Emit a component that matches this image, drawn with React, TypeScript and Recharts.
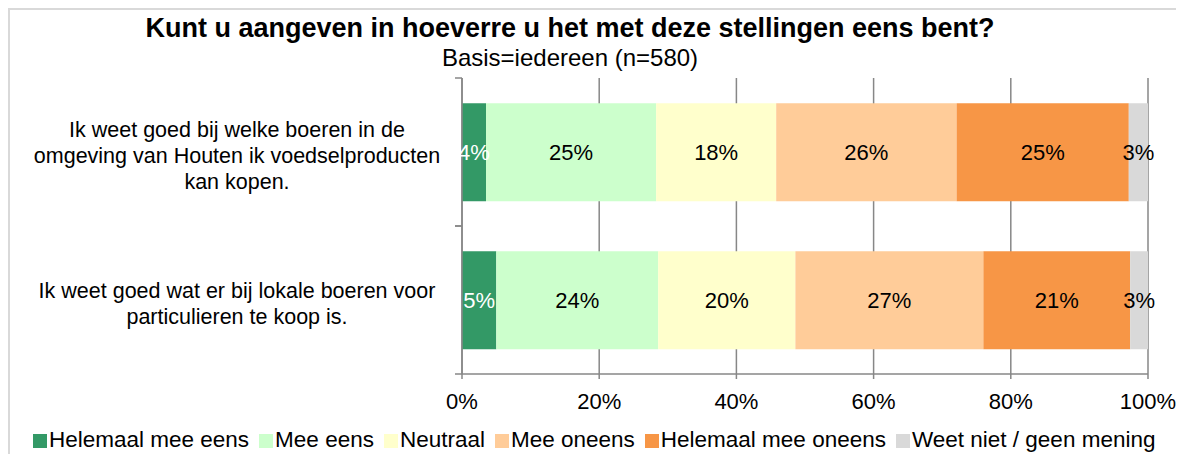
import React from "react";
import { BarChart, Bar, XAxis, YAxis, CartesianGrid, LabelList } from "recharts";

const statements = [
  ["Ik weet goed bij welke boeren in de", "omgeving van Houten ik voedselproducten", "kan kopen."],
  ["Ik weet goed wat er bij lokale boeren voor", "particulieren te koop is."],
];

const seriesNames = [
  "Helemaal mee eens",
  "Mee eens",
  "Neutraal",
  "Mee oneens",
  "Helemaal mee oneens",
  "Weet niet / geen mening",
];
const seriesColors = ["#339966", "#CCFFCC", "#FFFFCC", "#FFCC99", "#F79646", "#D9D9D9"];
const labelColors = ["#ffffff", "#000000", "#000000", "#000000", "#000000", "#000000"];

// percentages per statement, in the order of the statements above
const helemaalMeeEens = [3.5, 5.0];
const meeEens = [24.8, 23.6];
const neutraal = [17.5, 20.0];
const meeOneens = [26.3, 27.4];
const helemaalMeeOneens = [25.1, 21.4];
const weetNiet = [2.8, 2.6];

const xTicks = [0, 20, 40, 60, 80, 100];

const series = [helemaalMeeEens, meeEens, neutraal, meeOneens, helemaalMeeOneens, weetNiet];
const keys = series.map((_, i) => `s${i}`);

const data = statements.map((lines, i) => {
  const row: Record<string, any> = { name: lines.join(" ") };
  series.forEach((vals, j) => (row[keys[j]] = vals[i]));
  return row;
});

const FONT = "'Liberation Sans', Arial, sans-serif";
const GRID = "#878787";

function StatementTick(props: any) {
  const { y, payload } = props;
  const idx = data.findIndex((d) => d.name === payload.value);
  const lines = statements[idx] || [];
  const half = payload.offset || 74;
  const lh = 26;
  const startY = y + 4 - ((lines.length - 1) * lh) / 2;
  return (
    <g>
      <line x1={447} x2={454} y1={y - half} y2={y - half} stroke={GRID} strokeWidth={1.5} />
      <line x1={447} x2={454} y1={y + half} y2={y + half} stroke={GRID} strokeWidth={1.5} />
      <text x={229} y={startY} textAnchor="middle" dominantBaseline="central" fontSize={21.5} fill="#000" fontFamily={FONT}>
        {lines.map((l, i) => (
          <tspan key={i} x={229} y={startY + i * lh}>
            {l}
          </tspan>
        ))}
      </text>
    </g>
  );
}

function SegmentLabel(color: string, vals: number[]) {
  return (p: any) => {
    const { x, y, width, height, index } = p;
    return (
      <text
        x={x + width / 2}
        y={y + height / 2}
        textAnchor="middle"
        dominantBaseline="central"
        fontSize={22}
        fill={color}
        fontFamily={FONT}
      >
        {Math.round(vals[index])}%
      </text>
    );
  };
}

export default function App() {
  return (
    <div style={{ position: "relative", width: 1176, height: 446, fontFamily: FONT, background: "#fff" }}>
      <div style={{ position: "absolute", left: 0, top: 0, width: 1176, height: 2, background: "#d9d9d9" }} />
      <div style={{ position: "absolute", left: 0, top: 0, width: 2, height: 446, background: "#d9d9d9" }} />
      <div
        style={{
          position: "absolute",
          left: 0,
          width: 1124,
          top: 4,
          textAlign: "center",
          fontWeight: "bold",
          fontSize: 27,
          lineHeight: "32px",
          whiteSpace: "nowrap",
        }}
      >
        Kunt u aangeven in hoeverre u het met deze stellingen eens bent?
      </div>
      <div
        style={{
          position: "absolute",
          left: 0,
          width: 1124,
          top: 36,
          textAlign: "center",
          fontSize: 24,
          lineHeight: "28px",
        }}
      >
        Basis=iedereen (n=580)
      </div>
      <div style={{ position: "absolute", left: 0, top: 0 }}>
        <BarChart
          width={1176}
          height={446}
          data={data}
          layout="vertical"
          margin={{ top: 70, right: 36, bottom: 50, left: 0 }}
          barCategoryGap="17%"
        >
          <CartesianGrid vertical horizontal={false} stroke={GRID} strokeWidth={1.5} />
          <XAxis
            type="number"
            domain={[0, 100]}
            ticks={xTicks}
            tickFormatter={(v) => `${v}%`}
            height={30}
            tickSize={5}
            tickMargin={14}
            axisLine={{ stroke: GRID, strokeWidth: 1.5 }}
            tickLine={{ stroke: GRID, strokeWidth: 1.5 }}
            tick={{ fontSize: 22, fill: "#000", fontFamily: FONT }}
            allowDataOverflow
          />
          <YAxis
            type="category"
            dataKey="name"
            width={454}
            axisLine={{ stroke: GRID, strokeWidth: 1.5 }}
            tickLine={false}
            tick={<StatementTick />}
          />
          {keys.map((k, i) => (
            <Bar key={k} dataKey={k} stackId="a" fill={seriesColors[i]} isAnimationActive={false}>
              <LabelList dataKey={k} content={SegmentLabel(labelColors[i], series[i])} />
            </Bar>
          ))}
        </BarChart>
      </div>
      <div
        style={{
          position: "absolute",
          left: 25,
          top: 418,
          display: "flex",
          alignItems: "center",
          fontSize: 22.5,
          lineHeight: "28px",
          whiteSpace: "nowrap",
        }}
      >
        {seriesNames.map((n, i) => (
          <div key={n} style={{ display: "flex", alignItems: "center", marginRight: 10 }}>
            <div style={{ width: 14, height: 14, background: seriesColors[i], marginRight: 2, marginTop: 2 }} />
            <span>{n}</span>
          </div>
        ))}
      </div>
    </div>
  );
}
